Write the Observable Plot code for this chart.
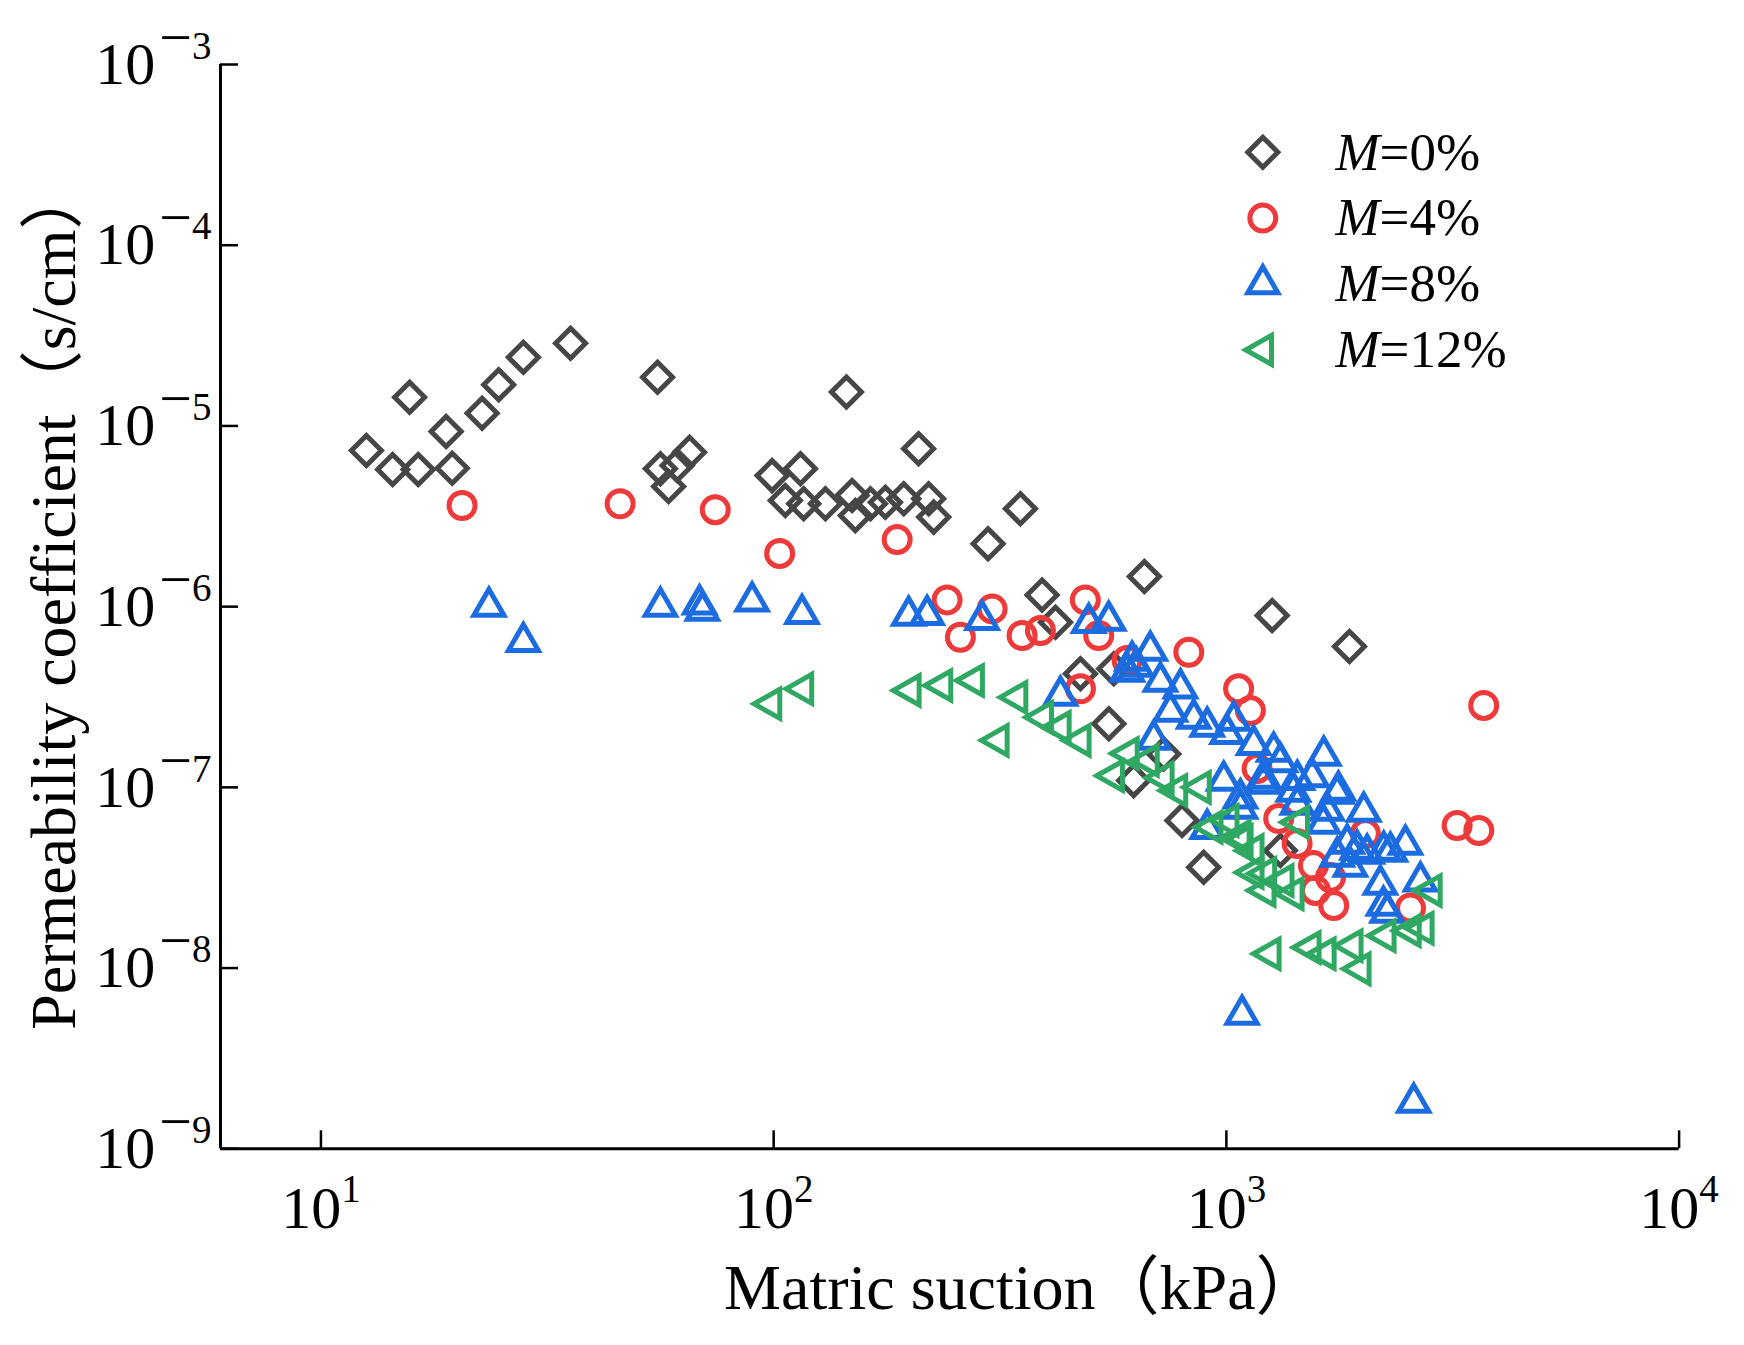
<!DOCTYPE html>
<html><head><meta charset="utf-8">
<script src="https://cdn.jsdelivr.net/npm/d3@7"></script>
<script src="https://cdn.jsdelivr.net/npm/@observablehq/plot@0.6"></script>
<style>body{margin:0;background:#fff}</style>
</head><body><div id="chart"></div>
<script>
// ---- data ----
const seriesLabels = ["M=0%", "M=4%", "M=8%", "M=12%"];
const seriesValues = ["=0%", "=4%", "=8%", "=12%"];

const suction0 = [12.6, 14.4, 16.4, 15.7, 18.9, 19.5, 22.7, 24.7, 28.0, 35.6, 55.4, 56.2, 58.6, 61.2, 65.2,
  99.2, 114.6, 106.1, 116.5, 130.1, 149.0, 151.5, 163.6, 176.5, 193.8, 220, 225.7, 209, 144.8,
  350.8, 297.6, 391.7, 419.3, 659, 1262, 1870, 476, 564, 550, 727, 624, 798, 891, 1316];
const perm0 = [7.31e-6, 5.74e-6, 5.74e-6, 1.44e-5, 9.31e-6, 5.83e-6, 1.175e-5, 1.69e-5, 2.40e-5, 2.87e-5, 1.86e-5, 5.79e-6, 4.62e-6, 6.04e-6, 7.15e-6,
  5.31e-6, 5.79e-6, 3.87e-6, 3.71e-6, 3.71e-6, 4.12e-6, 3.19e-6, 3.71e-6, 3.78e-6, 3.95e-6, 3.95e-6, 3.13e-6, 7.47e-6, 1.54e-5,
  3.48e-6, 2.23e-6, 1.16e-6, 8.20e-7, 1.47e-6, 8.93e-7, 6.02e-7, 4.25e-7, 4.53e-7, 2.25e-7, 1.53e-7, 1.09e-7, 6.55e-8, 3.61e-8, 4.47e-8];

const suction4 = [20.5, 45.8, 74.3, 103.1, 187.4, 241.6, 303.8, 258.5, 353.8, 388.4, 488, 522.4, 476, 603.6, 826,
  1064, 1130, 1169, 1305, 1433, 1557, 1573, 1726, 1698, 2028, 2551, 3702, 3234, 3610];
const perm4 = [3.63e-6, 3.71e-6, 3.44e-6, 1.97e-6, 2.35e-6, 1.09e-6, 9.72e-7, 6.77e-7, 6.92e-7, 7.38e-7, 1.09e-6, 6.92e-7, 3.51e-7, 5.03e-7, 5.59e-7,
  3.51e-7, 2.66e-7, 1.27e-7, 6.72e-8, 4.89e-8, 3.69e-8, 2.69e-8, 2.22e-8, 3.17e-8, 5.55e-8, 2.15e-8, 2.84e-7, 6.15e-8, 5.77e-8];

const suction8 = [23.5, 28.0, 56.2, 68.6, 69.6, 89.6, 115.5, 198.7, 218.2, 288.7, 496.6, 549.6, 430, 619, 633, 604,
  679, 715, 791.6, 752, 847, 907, 1038, 1004, 1149, 1272, 1316, 691, 986.6, 1074, 1209, 1406, 1641, 1547, 1757,
  1669, 2011, 907, 1848, 2046, 2303, 2486, 1879, 2188, 2223, 1083, 2593, 1435, 1435, 1638, 1757, 1945, 2226,
  2683, 2265, 1768, 1207, 1074];
const perm8 = [1.0e-6, 6.38e-7, 1.0e-6, 1.03e-6, 9.52e-7, 1.07e-6, 9.12e-7, 8.93e-7, 9.01e-7, 8.45e-7, 8.13e-7, 8.38e-7, 3.22e-7, 5.03e-7, 4.66e-7, 4.37e-7,
  5.71e-7, 3.85e-7, 3.53e-7, 2.63e-7, 2.40e-7, 2.17e-7, 2.34e-7, 1.98e-7, 1.72e-7, 1.58e-7, 1.38e-7, 1.84e-7, 1.09e-7, 8.7e-8, 1.12e-7, 9.48e-8, 1.50e-7, 1.14e-7, 9.24e-8,
  7.44e-8, 7.35e-8, 5.9e-8, 4.89e-8, 4.30e-8, 4.41e-8, 4.83e-8, 3.65e-8, 2.90e-8, 2.22e-8, 5.53e-9, 1.80e-9, 1.10e-7, 8.03e-8, 6.30e-8, 4.14e-8, 4.53e-8, 4.47e-8,
  3.02e-8, 2.03e-8, 9.6e-8, 1.05e-7, 7.63e-8];

const suction12 = [98.7, 116.1, 200.5, 235.5, 276.6, 345, 313.7, 393, 430, 476, 564, 608, 673, 726, 778, 877,
  931, 1010, 1085, 1147, 1223, 1336, 1406, 1445, 1251, 1533, 1655, 1898, 1977, 2245, 2551, 2724, 2838, 1074, 1147, 1219];
const perm12 = [2.90e-7, 3.51e-7, 3.44e-7, 3.66e-7, 3.90e-7, 3.15e-7, 1.82e-7, 2.44e-7, 2.15e-7, 1.82e-7, 1.16e-7, 1.54e-7, 1.41e-7, 1.13e-7, 9.6e-8, 1.0e-7,
  6.02e-8, 6.55e-8, 5.08e-8, 4.47e-8, 3.34e-8, 3.05e-8, 2.58e-8, 6.41e-8, 1.20e-8, 1.30e-8, 1.20e-8, 1.33e-8, 9.9e-9, 1.51e-8, 1.61e-8, 1.66e-8, 2.69e-8, 5.35e-8, 3.38e-8, 2.69e-8];

const xTicks = [10, 100, 1000, 10000];
const yTicks = [1e-9, 1e-8, 1e-7, 1e-6, 1e-5, 1e-4, 1e-3];
const xDomain = [6, 10000];
const yDomain = [1e-9, 1e-3];
const xTitle = "Matric suction（kPa）";
const yTitle = "Permeability coefficient（s/cm）";

// ---- styles ----
const colors = ["#464646", "#ee3a3a", "#1b6ce0", "#2ea862"];
function sym(f) { return {draw(ctx, size) { f(ctx, Math.sqrt(size / Math.PI)); }}; }
const diamond = sym((c, R) => { const h = 1.5 * R; c.moveTo(0, -h); c.lineTo(h, 0); c.lineTo(0, h); c.lineTo(-h, 0); c.closePath(); });
const circle = sym((c, R) => { const r = 1.3 * R; c.moveTo(r, 0); c.arc(0, 0, r, 0, 2 * Math.PI); c.closePath(); });
const triUp = sym((c, R) => { const w = 1.5 * R, t = 1.733 * R, b = 0.867 * R; c.moveTo(0, -t); c.lineTo(w, b); c.lineTo(-w, b); c.closePath(); });
const triLeft = sym((c, R) => { const hh = 1.45 * R, l = 1.7 * R, rr = 0.87 * R; c.moveTo(-l, 0); c.lineTo(rr, -hh); c.lineTo(rr, hh); c.closePath(); });
const symbols = [diamond, circle, triUp, triLeft];

const series = [[suction0, perm0], [suction4, perm4], [suction8, perm8], [suction12, perm12]]
  .map(([xs, ys], i) => xs.map((x, j) => ({suction: x, perm: ys[j], series: seriesLabels[i]})));

const W = 1744, H = 1345, mL = 220, mR = 65.4, mT = 64, mB = 196.7;
const frameW = W - mL - mR, frameH = H - mT - mB;
const font = "'Liberation Serif','Times New Roman','Noto Sans CJK SC',serif";
const SW = 5;

const svg = Plot.plot({
  width: W, height: H,
  marginLeft: mL, marginRight: mR, marginTop: mT, marginBottom: mB,
  style: {fontFamily: font, background: "white", color: "black", overflow: "visible"},
  x: {type: "log", domain: xDomain},
  y: {type: "log", domain: yDomain},
  marks: [
    ...series.map((rows, i) => Plot.dot(rows, {x: "suction", y: "perm", symbol: symbols[i], r: 10,
      stroke: colors[i], strokeWidth: SW, fill: "none"})),
    Plot.ruleX(xTicks, {x: d => d, insetTop: frameH - 18, strokeWidth: 2.5, stroke: "black"}),
    Plot.ruleY(yTicks, {y: d => d, insetRight: frameW - 18, strokeWidth: 2.5, stroke: "black"}),
    Plot.ruleX([xDomain[0]], {x: d => d, strokeWidth: 3, stroke: "black"}),
    Plot.ruleY([yDomain[0]], {y: d => d, strokeWidth: 3, stroke: "black"}),
    Plot.axisX(xTicks, {tickSize: 0, tickPadding: 37, fontSize: 60, label: null,
      tickFormat: d => "10^" + Math.round(Math.log10(d))}),
    Plot.axisY(yTicks, {tickSize: 0, tickPadding: 9, fontSize: 60, label: null,
      tickFormat: d => "10^" + Math.round(Math.log10(d))}),
    Plot.text([xTitle], {frameAnchor: "bottom", text: d => d, fontSize: 64, textAnchor: "middle",
      lineAnchor: "middle", dx: 72, dy: 140}),
    Plot.text([yTitle], {frameAnchor: "left", text: d => d, fontSize: 64, rotate: -90, textAnchor: "middle",
      lineAnchor: "middle", dx: -165.5, dy: -9}),
    ...seriesLabels.map((lab, i) => Plot.dot([lab], {frameAnchor: "top-left", dx: 1262.3 - mL, dy: 151.7 - mT + 65.9 * i,
      symbol: symbols[i], r: 10, stroke: colors[i], strokeWidth: SW, fill: "none"})),
    ...seriesLabels.map((lab, i) => Plot.text(["M"], {frameAnchor: "top-left", text: d => d, fontSize: 53,
      fontStyle: "italic", textAnchor: "start", lineAnchor: "middle", dx: 1335 - mL, dy: 152.3 - mT + 65.6 * i})),
    ...seriesValues.map((v, i) => Plot.text([v], {frameAnchor: "top-left", text: d => d, fontSize: 53,
      textAnchor: "start", lineAnchor: "middle", dx: 1379 - mL, dy: 152.3 - mT + 65.6 * i}))
  ]
});

// superscript exponents on tick labels
const NS = "http://www.w3.org/2000/svg";
svg.querySelectorAll('g[aria-label="x-axis tick label"] text, g[aria-label="y-axis tick label"] text').forEach(t => {
  const [b, e] = t.textContent.split("^");
  t.textContent = b;
  if (e.startsWith("-")) {
    const mi = document.createElementNS(NS, "tspan");
    mi.setAttribute("font-size", 58);
    mi.setAttribute("dy", -27);
    mi.setAttribute("dx", 4);
    mi.textContent = "\u2212";
    t.appendChild(mi);
    const dg = document.createElementNS(NS, "tspan");
    dg.setAttribute("font-size", 39);
    dg.setAttribute("dy", 2);
    dg.textContent = e.slice(1);
    t.appendChild(dg);
  } else {
    const ts = document.createElementNS(NS, "tspan");
    ts.setAttribute("font-size", 39);
    ts.setAttribute("dy", -26);
    ts.textContent = e;
    t.appendChild(ts);
  }
});

document.getElementById("chart").appendChild(svg);
</script>
</body></html>
